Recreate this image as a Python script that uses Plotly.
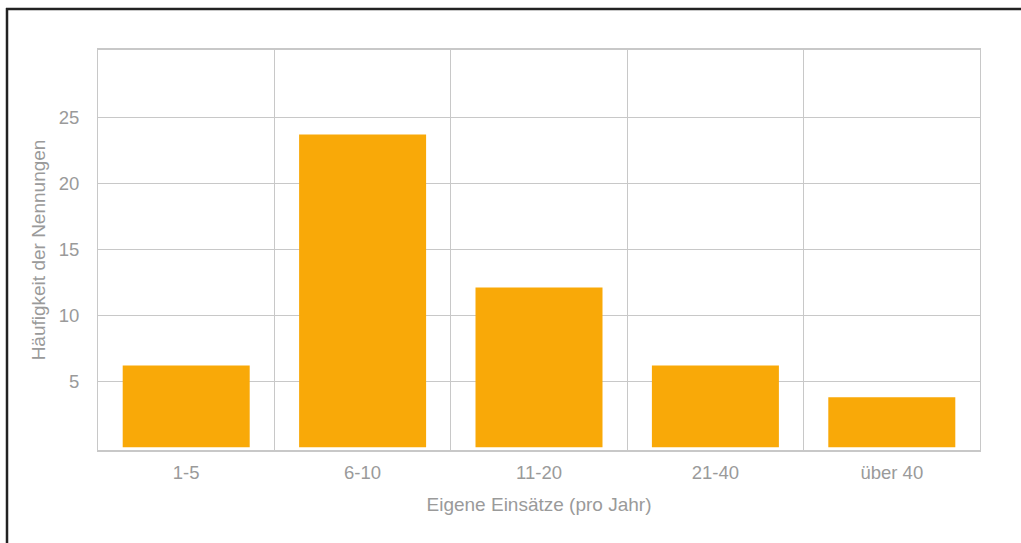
import plotly.graph_objects as go

categories = ["1-5", "6-10", "11-20", "21-40", "über 40"]
values = [6.2, 23.7, 12.1, 6.2, 3.8]
y_ticks = [5, 10, 15, 20, 25]

W, H = 1021, 543
L, R, T, B = 98, 41, 50, 93
pw, ph = W - L - R, H - T - B

def px(x):
    return (x - L) / pw

def py(y):
    return (H - B - y) / ph

fig = go.Figure(go.Bar(
    x=categories, y=values,
    marker=dict(color="#F9A908", line=dict(width=0)),
    width=0.72,
))

grid = "#C8C8C8"
font_col = "#9A9A9A"
fig.update_layout(
    width=W, height=H,
    margin=dict(l=L, r=R, t=T, b=B),
    paper_bgcolor="white", plot_bgcolor="white",
    font=dict(family="Liberation Sans, Arial, sans-serif", size=19, color=font_col),
    showlegend=False,
    xaxis=dict(
        type="category", tickson="boundaries", showgrid=True, gridcolor=grid, gridwidth=1,
        showline=True, linecolor=grid, linewidth=2, mirror=True, ticks="", ticklen=0,
        ticklabelstandoff=5,
        title=dict(text="Eigene Einsätze (pro Jahr)", standoff=15, font=dict(size=19, color=font_col)),
        tickfont=dict(size=18.5, color=font_col),
    ),
    yaxis=dict(
        range=[-0.2, 30.1], tickvals=y_ticks, showgrid=True, gridcolor=grid, gridwidth=1,
        showline=True, linecolor=grid, linewidth=1, mirror=True, zeroline=False, ticks="",
        ticklabelstandoff=14,
        title=dict(text="Häufigkeit der Nennungen", standoff=8, font=dict(size=19, color=font_col)),
        tickfont=dict(size=18.5, color=font_col),
    ),
    shapes=[
        dict(type="line", xref="paper", yref="paper", x0=px(6), x1=px(1021), y0=py(9), y1=py(9),
             line=dict(color="#222222", width=2.5)),
        dict(type="line", xref="paper", yref="paper", x0=px(7), x1=px(7), y0=py(8), y1=py(543),
             line=dict(color="#222222", width=2.5)),
    ],
)

fig.write_html("out.html")
